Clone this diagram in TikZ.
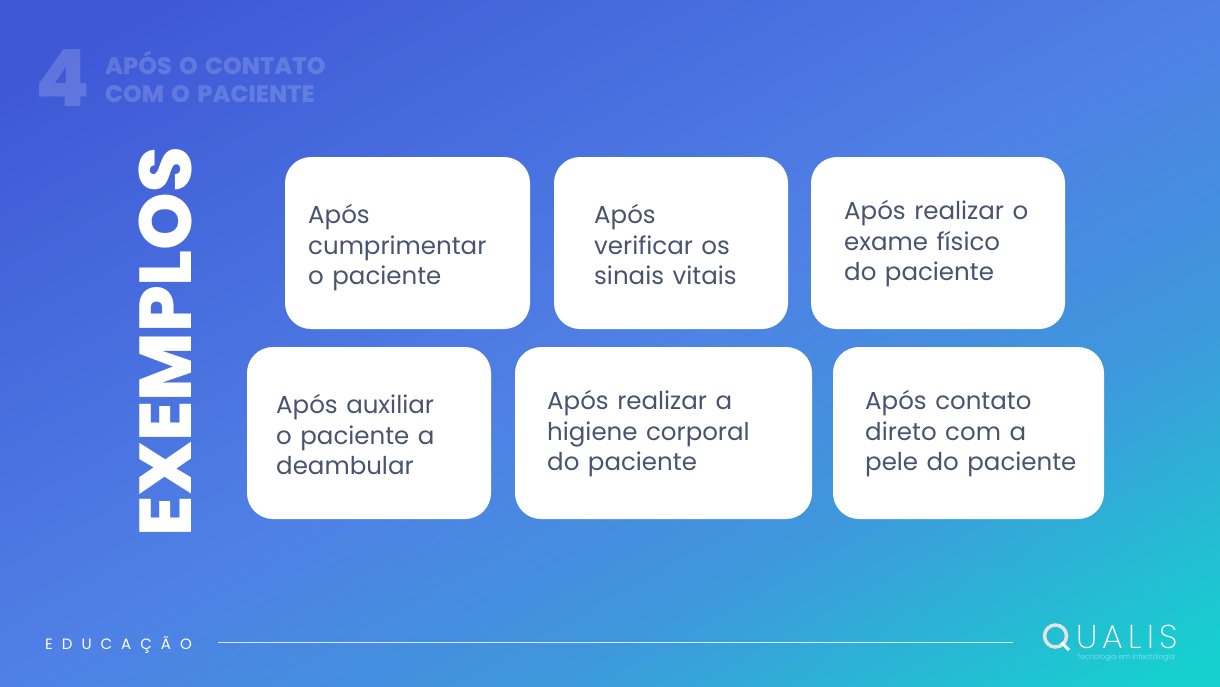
\documentclass[tikz,border=0pt]{standalone}
\usepackage{fontspec}
\setmainfont[WordSpace=1.3]{Poppins}
\newfontfamily\heavyfont[WordSpace=1.6]{Poppins ExtraBold}
\newfontfamily\logofont{Poppins ExtraLight}
\usetikzlibrary{positioning}
\definecolor{boxtext}{HTML}{47546F}
\definecolor{qualisa}{HTML}{3F58D6}
\definecolor{qualisb}{HTML}{4F80E5}
\definecolor{qualisd}{HTML}{3F97DC}
\definecolor{qualisc}{HTML}{17CFCF}
\pgfdeclareverticalshading{qualisbg}{100bp}{%
    color(0bp)=(qualisc); color(18bp)=(qualisc); color(35bp)=(qualisd); color(50bp)=(qualisb);
    color(80bp)=(qualisa); color(100bp)=(qualisa)}
\tikzset{
    card/.style={fill=white, rounded corners=26pt, inner sep=0pt},
    cardtext/.style={anchor=west, align=left, text=boxtext, inner sep=0pt,
        font=\fontsize{24.5}{30.5}\selectfont},
    faded/.style={text=white, text opacity=.17, inner sep=0pt}
}
\begin{document}
\begin{tikzpicture}[x=1pt, y=-1pt]
    \useasboundingbox (0,0) rectangle (1220,686);
    \path[shading=qualisbg, shading angle=29] (0,0) rectangle (1220,686);
    % header
    \node[faded, anchor=center, font=\heavyfont\fontsize{79}{79}\selectfont] (number) at (63,78) {4};
    \node[faded, anchor=west, align=left, font=\heavyfont\fontsize{23.8}{28}\selectfont] (title) at (105,76.5) {APÓS O CONTATO\\COM O PACIENTE};
    \node[rotate=90, text=white, inner sep=0pt, font=\heavyfont\fontsize{73.4}{74}\selectfont] (examples) at (165,341.5) {EXEMPLOS};
    % cards
    \foreach \cname/\xa/\ya/\xb/\yb/\tx/\ty/\ltext in {
        a/285/157/530/329/308/248/{Após\\cumprimentar\\o paciente},
        b/554/157/788/329/594/244.5/{Após\\verificar os\\sinais vitais},
        c/811/157/1065/329/844/244/{Após realizar o\\exame físico\\do paciente},
        d/247/347/491/519/276/434.5/{Após auxiliar\\o paciente a\\deambular},
        e/515/347/812/519/547/434/{Após realizar a\\higiene corporal\\do paciente},
        f/833/347/1104/519/865/434/{Após contato\\direto com a\\pele do paciente}} {
        \path[card] (\xa,\ya) rectangle (\xb,\yb);
        \node[cardtext] (t-\cname) at (\tx,\ty) {\ltext};
    }
    % footer
    \node[anchor=west, text=white, inner sep=0pt, font=\addfontfeatures{LetterSpace=60}\fontsize{15}{15}\selectfont] (edu) at (45,645) {EDUCAÇÃO};
    \coordinate (rule-end) at (1013,642);
    \coordinate (rule-start) at (218,642);
    \draw[white, opacity=.8, line width=.9pt] (rule-start) -- (rule-end);
    % logo
    \draw[white!78!gray, line width=3.5pt] (1055.5,636) circle (11pt);
    \draw[white, line width=3pt] (1061.5,642.5) -- (1069,650);
    \node[anchor=base west, text=white, inner sep=0pt, font=\logofont\addfontfeatures{LetterSpace=16}\fontsize{33}{33}\selectfont] (logo) at (1076,648) {UALIS};
    \node[anchor=base east, text=white, opacity=.8, inner sep=0pt, font=\logofont\fontsize{7.3}{8}\selectfont] (tagline) at (1175,659) {Tecnologia em Infectologia};
\end{tikzpicture}
\end{document}
